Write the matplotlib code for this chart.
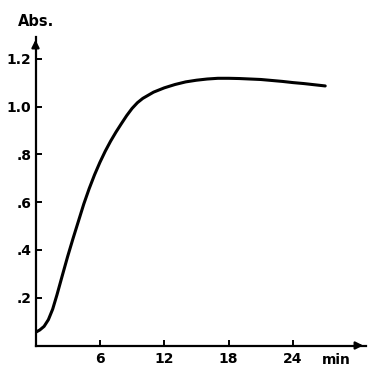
import matplotlib
matplotlib.use("Agg")
import matplotlib.pyplot as plt

# absorbance
time_min = [0, 0.4, 0.8, 1.2, 1.6, 2.0, 2.5, 3.0, 3.5, 4.0, 4.5, 5.0, 5.5, 6.0,
            6.5, 7.0, 7.5, 8.0, 8.5, 9.0, 9.5, 10, 11, 12, 13, 14, 15, 16, 17,
            18, 19, 20, 21, 22, 23, 24, 25, 26, 27]
absorb = [0.055, 0.065, 0.08, 0.108, 0.152, 0.212, 0.293, 0.373, 0.448, 0.52,
          0.592, 0.656, 0.714, 0.766, 0.813, 0.855, 0.893, 0.928, 0.962, 0.992,
          1.016, 1.034, 1.06, 1.078, 1.092, 1.103, 1.11, 1.115, 1.118, 1.118,
          1.117, 1.115, 1.113, 1.109, 1.105, 1.100, 1.096, 1.091, 1.086]

x_ticks = [6, 12, 18, 24]
y_ticks = [0.2, 0.4, 0.6, 0.8, 1.0, 1.2]
y_labels = [".2", ".4", ".6", ".8", "1.0", "1.2"]

plt.rcParams['font.family'] = ['DejaVu Sans']
plt.rcParams['font.weight'] = 'bold'

fig = plt.figure(figsize=(3.68, 3.67), dpi=100)
ax = fig.add_axes([35.5 / 368, 21.5 / 367, (366 - 35.5) / 368, (345.5 - 37) / 367])
ax.plot(time_min, absorb, color='black', lw=2.2, solid_capstyle='round',
        solid_joinstyle='round')

ax.set_xlim(0, (366 - 35.5) / 10.73)
ax.set_ylim(0, (345.5 - 37) / 239)

for s in ['top', 'right']:
    ax.spines[s].set_visible(False)
for s in ['left', 'bottom']:
    ax.spines[s].set_linewidth(1.6)

# arrow heads on both axes
ax.annotate('', xy=(0, 1), xytext=(0, 0.96), xycoords='axes fraction',
            arrowprops=dict(arrowstyle='-|>', color='black', lw=1.6, mutation_scale=11))
ax.annotate('', xy=(1, 0), xytext=(0.96, 0), xycoords='axes fraction',
            arrowprops=dict(arrowstyle='-|>', color='black', lw=1.6, mutation_scale=11))

ax.set_xticks(x_ticks)
ax.set_yticks(y_ticks)
ax.set_yticklabels(y_labels)
ax.tick_params(direction='in', length=4, width=1.4, labelsize=10, pad=5)
ax.tick_params(axis='y', pad=3)

ax.annotate('min', xy=(28, 0), xycoords=('data', 'axes fraction'),
            xytext=(0, -5.5), textcoords='offset points',
            ha='center', va='top', fontsize=10, fontweight='bold')
fig.text(36 / 368, 1 - 21 / 367, 'Abs.', ha='center', va='center',
         fontsize=10.5, fontweight='bold')

fig.savefig('out.png', dpi=100)
